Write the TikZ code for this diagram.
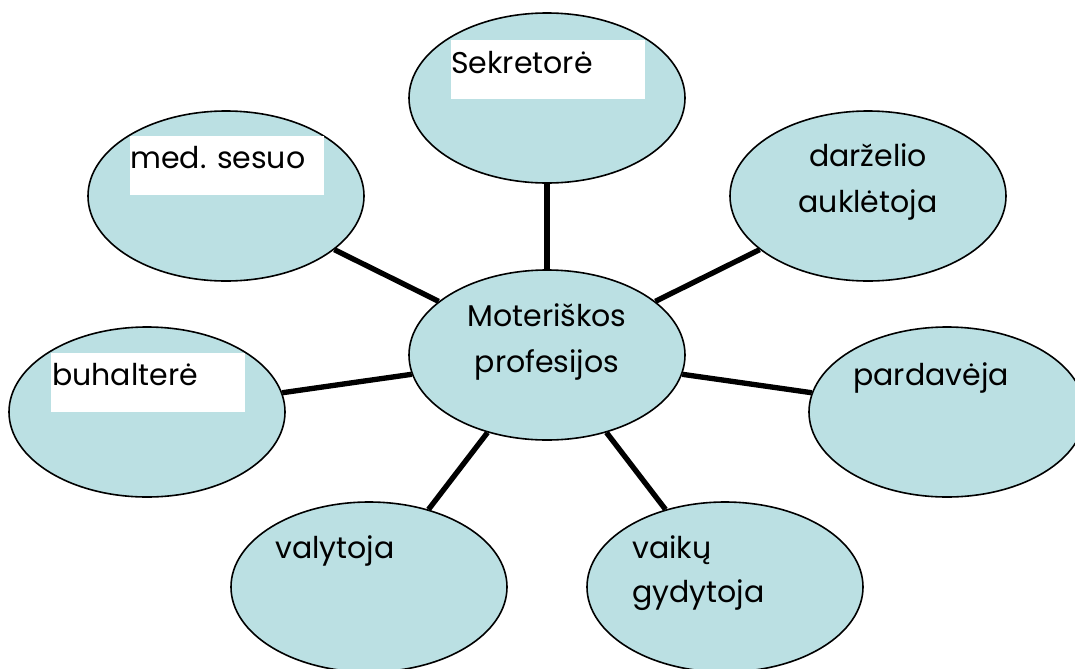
\documentclass[tikz,border=0pt]{standalone}
\usepackage{fontspec}
\setmainfont{Poppins}
\usetikzlibrary{shapes.geometric}
\definecolor{bubble}{RGB}{187,224,227}

\begin{document}
\begin{tikzpicture}[x=0.75pt, y=-0.75pt,
	bub/.style = {draw, ellipse, fill=bubble, line width=1.2pt, minimum width=207pt, minimum height=127.5pt, inner sep=0pt},
	whitebox/.style = {fill=white, anchor=north west, minimum width=145pt, minimum height=44pt, inner sep=0pt},
	lbl/.style = {anchor=base west, inner sep=0pt, font=\fontsize{22.5}{33}\selectfont},
	mlbl/.style = {anchor=base, inner sep=0pt, align=center, font=\fontsize{22.5}{34.5}\selectfont},
	link/.style = {line width=4pt}]
			\clip (0,0) rectangle (1075,668);
			\node[bub] (centr) at (547,355) {};
			\node[bub] (sekr) at (547,98) {};
			\node[bub] (med) at (226,196) {};
			\node[bub] (darz) at (868,196) {};
			\node[bub] (buh) at (147,412) {};
			\node[bub] (pard) at (947,412) {};
			\node[bub] (valy) at (369,587) {};
			\node[bub] (vaik) at (725,587) {};
			\draw[link] (centr) -- (sekr);
			\draw[link] (centr) -- (med);
			\draw[link] (centr) -- (darz);
			\draw[link] (centr) -- (buh);
			\draw[link] (centr) -- (pard);
			\draw[link] (centr) -- (valy);
			\draw[link] (centr) -- (vaik);
			% white boxes behind some labels
			\node[whitebox] (sekrbox) at (451,40) {};
			\node[whitebox] (medbox) at (130,136) {};
			\node[whitebox] (buhbox) at (51,353) {};
			\node[mlbl] (centrt) at (547,372) {Moteriškos\\profesijos};
			\node[lbl] (sekrt) at (451,73) {Sekretorė};
			\node[lbl] (medt) at (130,168) {med. sesuo};
			\node[mlbl] (darzt) at (868,212) {darželio\\auklėtoja};
			\node[lbl] (buht) at (52,385) {buhalterė};
			\node[lbl] (pardt) at (853,385) {pardavėja};
			\node[lbl] (valyt) at (275,558) {valytoja};
			\node[lbl, align=left] (vaikt) at (632,602) {vaikų\\gydytoja};
\end{tikzpicture}
\end{document}
